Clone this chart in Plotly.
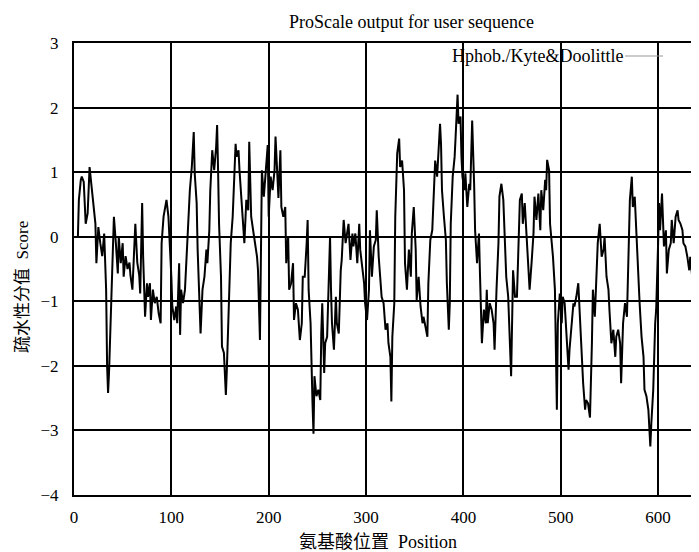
import plotly.graph_objects as go

position = [4,5,7,8,10,12,14,15,16,17,19,22,23,25,27,29,31,33,34,35,36,38,39,41,43,45,46,48,50,51,53,55,57,58,60,62,63,65,67,68,70,71,73,75,76,78,79,81,83,85,87,89,
            90,92,95,97,99,100,101,103,105,106,108,109,110,112,114,116,117,119,121,122,123,124,126,127,129,130,132,134,136,137,139,140,142,144,146,147,148,149,151,152,154,156,157,158,160,161,163,164,166,167,169,170,172,174,175,177,179,180,182,184,186,188,189,191,192,193,195,197,199,200,202,204,206,207,209,210,212,213,215,217,
            218,220,221,223,225,226,228,230,232,234,235,237,239,240,241,243,245,246,247,249,251,253,254,255,257,258,260,262,263,264,265,267,269,270,272,274,275,277,279,281,282,284,286,287,289,291,293,294,296,298,299,301,303,304,306,308,310,311,313,315,316,318,320,322,323,325,326,327,329,330,332,334,335,337,339,340,342,344,346,347,349,351,352,354,356,358,359,361,363,364,366,368,370,371,373,375,376,377,378,380,382,383,385,386,387,389,391,392,394,395,397,398,399,401,402,404,406,407,409,411,412,414,416,417,419,421,423,
            424,425,427,429,431,432,434,436,437,439,441,443,444,446,448,449,451,453,455,456,458,460,461,463,465,467,468,470,472,473,475,477,479,480,482,484,485,486,488,489,490,492,494,495,496,497,499,501,502,504,506,508,509,511,513,514,516,518,520,521,523,525,526,528,530,532,533,535,537,538,540,542,544,545,547,549,550,552,554,556,557,559,561,562,564,566,568,569,571,573,574,576,578,580,581,583,585,586,588,590,592,593,595,597,598,600,601,602,604,606,608,609,611,613,614,616,618,620,621,623,625,626,628,630,632,633,635,637,638,640,642]

score = [0.0,0.57,0.88,0.93,0.85,0.2,0.36,0.9,1.08,0.93,0.62,0.2,-0.41,0.15,-0.1,-0.3,0.05,-0.82,-2.0,-2.42,-2.1,-1.03,-0.6,0.31,-0.1,-0.57,0.0,-0.41,-0.1,-0.62,-0.3,-0.5,-0.4,-0.6,-0.82,-0.26,0.2,-0.4,-0.6,-0.88,0.52,-0.3,-1.24,-0.72,-0.93,-0.72,-1.29,-0.82,-1.03,-0.93,-1.19,-1.34,
         -0.1,0.31,0.57,0.31,-0.2,-0.62,-1.08,-1.29,-1.08,-1.34,-0.41,-1.52,-0.82,-1.03,-0.82,-0.2,0.31,0.72,1.08,1.34,1.62,0.98,0.52,-0.2,-1.03,-1.5,-0.82,-0.62,-0.2,-0.41,0.1,0.72,1.34,1.03,1.39,1.73,1.03,0.2,-0.62,-1.7,-1.8,-2.45,-2.06,-1.55,-0.82,-0.1,0.31,0.82,1.44,1.24,1.34,1.03,0.57,0.2,-0.1,0.57,0.41,1.47,0.31,0.1,-0.1,-0.31,-0.52,-1.6,-0.3,1.03,0.62,0.98,1.42,0.31,0.93,0.72,1.03,1.55,0.98,0.6,1.34,0.46,0.31,0.46,
         -0.41,0.0,-0.82,-0.72,-0.41,-1.29,-1.03,-1.13,-1.6,-1.34,-0.62,-0.62,-0.1,0.26,-0.82,-1.34,-2.58,-3.05,-2.16,-2.47,-2.37,-2.53,-1.5,-1.03,-2.11,-1.65,-1.55,-0.41,0.0,-0.82,-1.34,-1.75,-0.93,-1.34,-1.5,-0.52,-0.36,0.26,-0.1,0.1,0.2,-0.36,0.05,-0.15,0.05,-0.41,0.2,-0.2,-0.52,-0.72,-1.03,-1.29,-0.82,0.1,-0.62,-0.15,-0.05,0.41,-0.31,-0.82,-0.93,-1.03,-1.44,-1.34,-1.65,-1.86,-2.55,-1.55,-1.03,0.31,1.29,1.52,1.08,1.18,0.72,-0.41,-0.82,-0.2,-0.62,0.05,0.46,-0.2,-0.98,-0.62,-1.08,-1.34,-1.24,-1.39,-1.55,-0.72,-0.05,0.1,0.93,1.18,0.93,1.49,1.75,1.44,0.72,0.31,-0.05,-0.72,-1.44,-1.03,0.2,0.93,1.24,1.55,2.2,1.75,1.86,1.24,0.93,0.72,0.98,0.46,0.82,0.72,1.8,0.82,0.1,-0.41,0.05,-0.57,-1.65,-1.13,-1.34,
         -0.82,-1.34,-1.03,-1.13,-1.34,-1.75,-0.82,-0.1,0.62,0.82,0.57,-0.31,-0.62,-0.93,-1.65,-2.16,-0.52,-0.93,-0.93,-0.31,0.57,0.67,0.2,0.52,0.0,-0.41,-0.82,-0.41,0.05,0.62,0.26,0.67,0.1,0.72,0.41,0.88,0.72,1.19,1.03,0.2,0.05,-0.31,-0.82,-2.16,-2.68,-1.34,-0.88,-1.34,-0.93,-1.03,-1.65,-2.06,-1.75,-1.34,-1.03,-1.08,-0.93,-0.72,-1.44,-1.75,-2.27,-2.68,-2.53,-2.58,-2.8,-1.65,-0.82,-1.24,-0.62,-0.1,0.2,-0.31,-0.2,0.0,-0.62,-0.82,-1.13,-1.65,-1.44,-1.86,-1.55,-1.44,-1.65,-2.27,-1.34,-1.03,-1.24,-0.62,0.57,0.93,0.46,0.62,-0.1,-0.62,-1.03,-1.55,-1.86,-2.37,-2.47,-2.68,-3.25,-2.9,-2.37,-1.34,-1.13,-0.1,0.52,0.1,0.67,-0.15,0.1,-0.57,-0.2,-0.1,0.26,-0.1,0.31,0.41,0.26,0.2,0.1,-0.1,-0.15,-0.31,-0.52,-0.31,-0.62,-0.72,-0.82,-0.67,-0.95]

x_ticks = [0, 100, 200, 300, 400, 500, 600]
y_ticks = [-4, -3, -2, -1, 0, 1, 2, 3]

SERIF = "Liberation Serif, Times New Roman, serif"
CJK = "Liberation Serif, Noto Sans CJK SC, serif"

fig = go.Figure()
fig.add_trace(go.Scatter(x=position, y=score, mode="lines",
                         line=dict(color="black", width=2), showlegend=False))

# page has an 8px body margin; figure sized so it ends at the window edge
OFF = 8
W, H = 699 - OFF, 552 - OFF
L, R, T, B = 74 - OFF, 0, 43 - OFF, H - (495 - OFF)
PW, PH = W - L - R, H - T - B


def px(xp):
    return (xp - OFF - L) / PW


def py(yp):
    return (H - B - (yp - OFF)) / PH


fig.update_layout(
    width=W, height=H,
    margin=dict(l=L, r=R, t=T, b=B, pad=0, autoexpand=False),
    paper_bgcolor="white", plot_bgcolor="white",
    showlegend=False,
    xaxis=dict(range=[0, 642], tickvals=x_ticks, ticks="", showgrid=True,
               gridcolor="black", gridwidth=1.5, showline=True, linecolor="black",
               linewidth=2, mirror=True, zeroline=False, automargin=False,
               tickfont=dict(family=SERIF, size=17, color="black"),
               ticklabelstandoff=6),
    yaxis=dict(range=[-4, 3], tickvals=y_ticks, ticks="", showgrid=True,
               gridcolor="black", gridwidth=1.5, showline=True, linecolor="black",
               linewidth=2, mirror=False, zeroline=False, automargin=False,
               tickfont=dict(family=SERIF, size=17, color="black"),
               ticklabelstandoff=10),
)

fig.add_annotation(text="ProScale output for user sequence", xref="paper", yref="paper",
                   x=px(412), y=py(22), xanchor="center", yanchor="middle", showarrow=False,
                   font=dict(family=SERIF, size=18, color="black"))
fig.add_annotation(text="氨基酸位置  Position", xref="paper", yref="paper",
                   x=px(378), y=py(542), xanchor="center", yanchor="middle", showarrow=False,
                   font=dict(family=CJK, size=18, color="black"))
fig.add_annotation(text="疏水性分值  Score", xref="paper", yref="paper",
                   x=px(22), y=py(287), xanchor="center", yanchor="middle",
                   textangle=-90, showarrow=False,
                   font=dict(family=CJK, size=17, color="black"))
# legend entry
fig.add_annotation(text="Hphob./Kyte&Doolittle", xref="paper", yref="paper",
                   x=px(625), y=py(56), xanchor="right", yanchor="middle", showarrow=False,
                   font=dict(family=SERIF, size=18, color="black"))
fig.add_shape(type="line", xref="paper", yref="paper",
              x0=px(625), x1=px(663), y0=py(56), y1=py(56),
              line=dict(color="#999999", width=1.2))

fig.write_html("out.html")
